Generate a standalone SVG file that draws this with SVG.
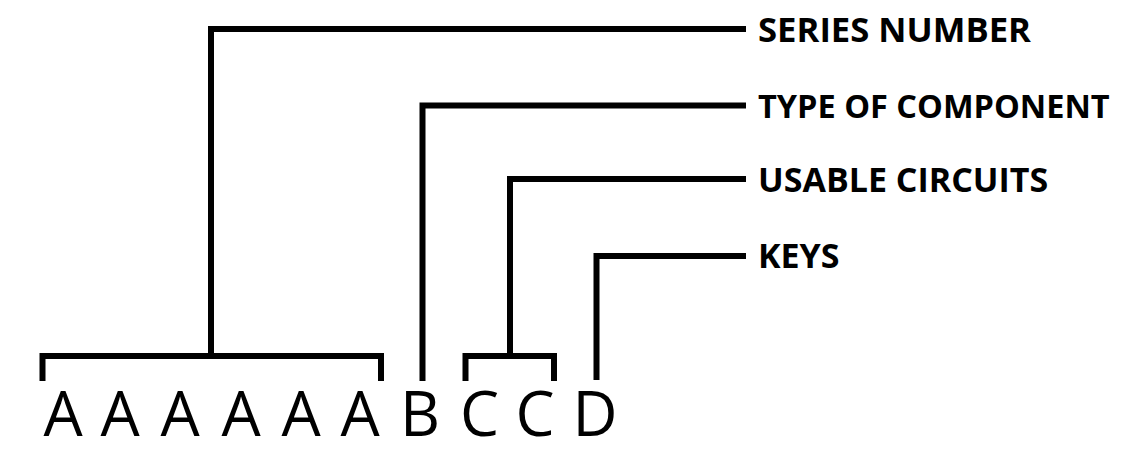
<svg xmlns="http://www.w3.org/2000/svg" width="1123" height="452" viewBox="0 0 1123 452">
<style>
.conn{fill:none;stroke:#000;stroke-width:6;stroke-linecap:butt;stroke-linejoin:miter}
.code{font-family:"Open Sans","Noto Sans",sans-serif;font-size:62px;fill:#000;text-anchor:middle}
.lbl{font-family:"Open Sans","Noto Sans",sans-serif;font-weight:bold;font-size:34px;fill:#000}
</style>
<rect width="1123" height="452" fill="#fff"/>
<g id="connectors">
<path class="conn" d="M42.5 381V356H381V381M211 356V29H746"/>
<path class="conn" d="M422.5 381V105.5H746"/>
<path class="conn" d="M465.5 381V356H554V381M510 356V179H746"/>
<path class="conn" d="M596.5 380V256H746"/>
</g>
<g id="code-series">
<text class="code" x="63" y="436">A</text>
<text class="code" x="120" y="436">A</text>
<text class="code" x="180" y="436">A</text>
<text class="code" x="241" y="436">A</text>
<text class="code" x="301" y="436">A</text>
<text class="code" x="360" y="436">A</text>
</g>
<g id="code-type"><text class="code" x="420" y="436">B</text></g>
<g id="code-circuits">
<text class="code" x="479.5" y="436">C</text>
<text class="code" x="535" y="436">C</text>
</g>
<g id="code-keys"><text class="code" x="595" y="436">D</text></g>
<g id="label-series"><text class="lbl" x="758" y="42" textLength="273" lengthAdjust="spacingAndGlyphs">SERIES NUMBER</text></g>
<g id="label-type"><text class="lbl" x="758" y="118" style="font-size:32.5px">TYPE OF COMPONENT</text></g>
<g id="label-circuits"><text class="lbl" x="758" y="192">USABLE CIRCUITS</text></g>
<g id="label-keys"><text class="lbl" x="758" y="268">KEYS</text></g>
</svg>
